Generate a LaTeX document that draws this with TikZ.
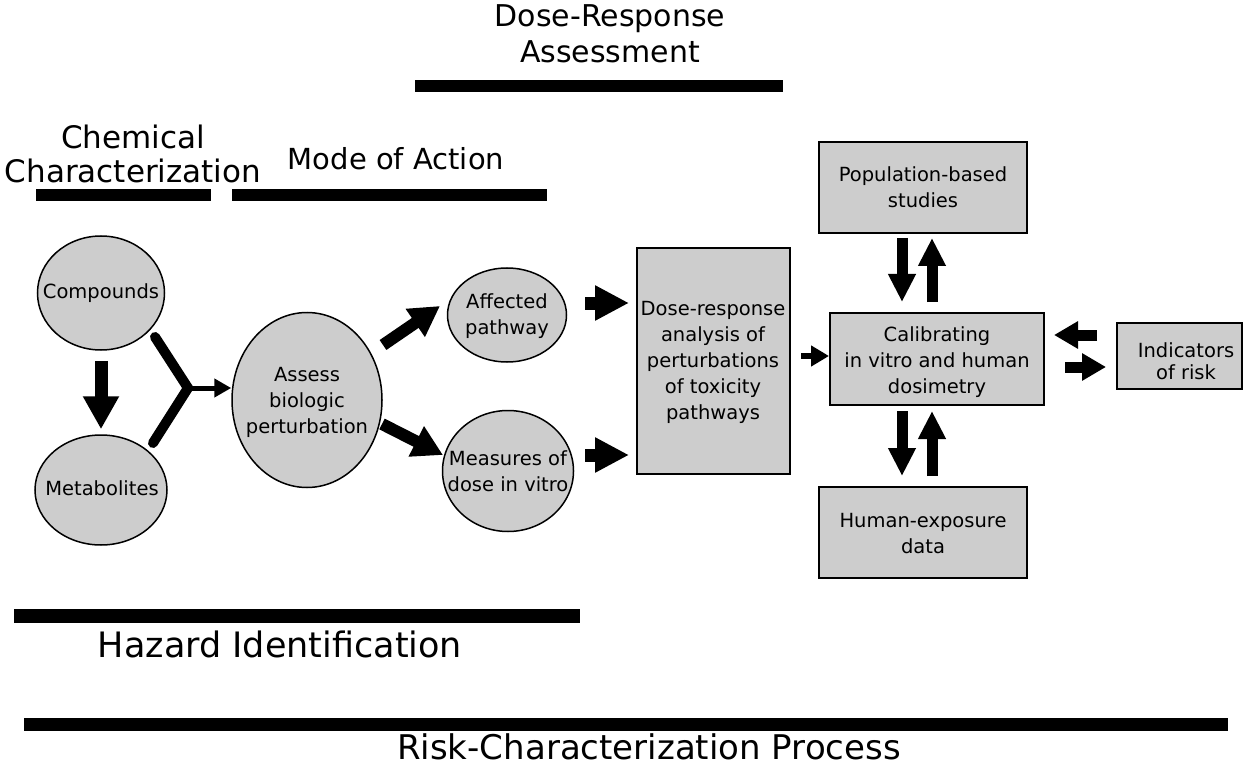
\documentclass[tikz,border=0pt]{standalone}
\usepackage{fontspec}
\setmainfont{DejaVu Sans}
\usetikzlibrary{arrows.meta,shapes.geometric}
\definecolor{boxgray}{RGB}{205,205,205}
\begin{document}
\begin{tikzpicture}[x=1pt,y=-1pt,
  bubble/.style={ellipse,draw=black,line width=1.5pt,fill=boxgray,inner sep=0pt},
  panel/.style={rectangle,draw=black,line width=2pt,fill=boxgray,inner sep=0pt},
  ntext/.style={align=center,font=\fontsize{19.5}{26}\selectfont,inner sep=0pt},
  htext/.style={align=center,inner sep=0pt},
  bar/.style={fill=black},
  vbig/.style={line width=13pt,-{Triangle[length=33pt,width=34pt]}},
  diagarrow/.style={line width=12pt,-{Triangle[length=30pt,width=32pt]}},
  hbig/.style={line width=13pt,-{Triangle[length=34pt,width=33pt]}},
  varrow/.style={line width=11pt,-{Triangle[length=28pt,width=26pt]}},
  sarrow/.style={line width=11pt,-{Triangle[length=24pt,width=26pt]}},
  thinarrow/.style={line width=5pt,-{Triangle[length=17pt,width=18pt]}},
  yline/.style={line width=10pt,line cap=round,line join=miter}
]
\fill[white] (0,0) rectangle (1247,767);
\useasboundingbox (0,0) rectangle (1247,767);

% headings and bars
\node[htext,font=\fontsize{30}{36}\selectfont] (drT) at (610,34) {Dose-Response\\Assessment};
\fill[bar] (415,80) rectangle (783,92);
\node[htext,font=\fontsize{31}{34}\selectfont] (chemT) at (133,154) {Chemical\\Characterization};
\node[htext,font=\fontsize{29}{34}\selectfont] (moaT) at (396,159) {Mode of Action};
\fill[bar] (36,189) rectangle (211,201);
\fill[bar] (232,189) rectangle (547,201);
\fill[bar] (14,609) rectangle (580,623);
\node[htext,font=\fontsize{35}{40}\selectfont] (hazT) at (280,644) {Hazard Identification};
\fill[bar] (24,718) rectangle (1228,731);
\node[htext,font=\fontsize{34}{40}\selectfont] (riskT) at (649,747) {Risk-Characterization Process};

% shapes
\node[bubble,minimum width=127pt,minimum height=114pt] (comp) at (101,293) {};
\node[bubble,minimum width=132pt,minimum height=110pt] (meta) at (101,490) {};
\node[bubble,minimum width=150pt,minimum height=175pt] (assess) at (307,400) {};
\node[bubble,minimum width=119pt,minimum height=94pt] (affected) at (507,315) {};
\node[bubble,minimum width=131pt,minimum height=121pt] (measures) at (508,471) {};
\node[panel,minimum width=153pt,minimum height=226pt] (dose) at (713.5,361) {};
\node[panel,minimum width=208pt,minimum height=91pt] (pop) at (923,187.5) {};
\node[panel,minimum width=214pt,minimum height=92pt] (calib) at (937,359) {};
\node[panel,minimum width=125pt,minimum height=66pt] (indic) at (1179.5,356) {};
\node[panel,minimum width=208pt,minimum height=91pt] (human) at (923,532.5) {};

% texts
\node[ntext] (compT) at (101,293) {Compounds};
\node[ntext] (metaT) at (102,488) {Metabolites};
\node[ntext] (assessT) at (307,402) {Assess\\biologic\\perturbation};
\node[ntext] (affectedT) at (507,316) {Affected\\pathway};
\node[ntext] (measuresT) at (508,471) {Measures of\\dose in vitro};
\node[ntext] (doseT) at (713,362) {Dose-response\\analysis of\\perturbations\\of toxicity\\pathways};
\node[ntext] (popT) at (923,187) {Population-based\\studies};
\node[ntext] (calibT) at (937,362) {Calibrating\\in vitro and human\\dosimetry};
\node[ntext,font=\fontsize{19.5}{22}\selectfont] (indicT) at (1186,361) {Indicators\\of risk};
\node[ntext] (humanT) at (923,534) {Human-exposure\\data};

% connectors
\draw[vbig,shorten <=10pt,shorten >=5pt] (comp) -- (meta);
\coordinate (yj) at (188,388);
\draw[yline] ([shift={(54,44)}]comp.center) -- (yj) -- ([shift={(52,-47)}]meta.center);
\draw[thinarrow] (yj) -- (assess.west |- yj);
\draw[diagarrow] ([shift={(76,-55)}]assess.center) -- ([shift={(-67,-9)}]affected.center);
\draw[diagarrow] ([shift={(75,24)}]assess.center) -- ([shift={(-65,-16)}]measures.center);
\draw[hbig] ([shift={(78,-12)}]affected.center) -- ([shift={(-7,-58)}]dose.west);
\draw[hbig] ([shift={(77,-16)}]measures.center) -- ([shift={(-7,94)}]dose.west);
\draw[thinarrow,line width=6pt,-{Triangle[length=18pt,width=20pt]}] ([shift={(10,-5)}]dose.east) -- ([shift={(0,-3)}]calib.west);
\draw[varrow] ([shift={(-21,4)}]pop.south) -- ([shift={(-35,-10)}]calib.north);
\draw[varrow] ([shift={(-5,-10)}]calib.north) -- ([shift={(9,4)}]pop.south);
\draw[varrow] ([shift={(-35,5)}]calib.south) -- ([shift={(-21,-10)}]human.north);
\draw[varrow] ([shift={(9,-10)}]human.north) -- ([shift={(-5,5)}]calib.south);
\draw[sarrow] ([shift={(-19,-21)}]indic.west) -- ([shift={(9,-24)}]calib.east);
\draw[sarrow] ([shift={(20,8)}]calib.east) -- ([shift={(-10,11)}]indic.west);
\end{tikzpicture}
\end{document}
